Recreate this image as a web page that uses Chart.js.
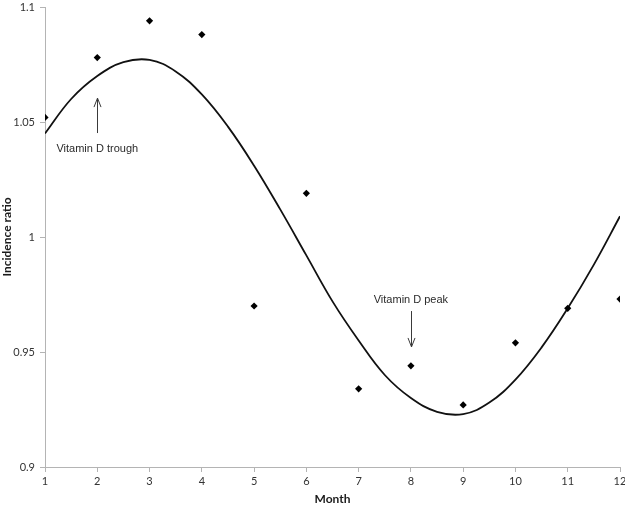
<!DOCTYPE html>
<html>
<head>
<meta charset="utf-8">
<script src="https://cdn.jsdelivr.net/npm/chart.js@4.4.1/dist/chart.umd.min.js"></script>
<style>
  html, body { margin: 0; padding: 0; background: #ffffff; }
  #wrap { width: 625px; height: 506px; position: relative; }
</style>
</head>
<body>
<div id="wrap"><canvas id="c" width="625" height="506"></canvas></div>
<script>
// Observed incidence ratio by month
const months = [1, 2, 3, 4, 5, 6, 7, 8, 9, 10, 11, 12];
const incidence = [1.052, 1.078, 1.094, 1.088, 0.970, 1.019, 0.934, 0.944, 0.927, 0.954, 0.969, 0.973];

// Fitted seasonal curve, every half month
const curveMonths = [1, 1.5, 2, 2.5, 3, 3.5, 4, 4.5, 5, 5.5, 6, 6.5, 7, 7.5, 8, 8.5, 9, 9.5, 10, 10.5, 11, 11.5, 12];
const curveValues = [1.045, 1.060, 1.070, 1.076, 1.077, 1.072, 1.062, 1.048, 1.031, 1.012, 0.992, 0.972, 0.955, 0.940, 0.930, 0.924, 0.923, 0.928, 0.938, 0.952, 0.969, 0.988, 1.009];

// Axis tick labels
const yTickValues = [0.9, 0.95, 1, 1.05, 1.1];
const yTickLabels = ["0.9", "0.95", "1", "1.05", "1.1"];
const xTickLabels = ["1", "2", "3", "4", "5", "6", "7", "8", "9", "10", "11", "12"];

// Annotations (text + arrow), in data units
const noteTexts = ["Vitamin D trough", "Vitamin D peak"];
const noteTextX = [2, 8];
const noteTextY = [1.0383, 0.9726];
const arrowX = [2, 8];
const arrowFromY = [1.0452, 0.9678];
const arrowToY = [1.0604, 0.9522];

const pointData = months.map((m, i) => ({ x: m, y: incidence[i] }));
const curveData = curveMonths.map((m, i) => ({ x: m, y: curveValues[i] }));

const annotationPlugin = {
  id: 'notes',
  afterDatasetsDraw(chart) {
    const ctx = chart.ctx;
    const xs = chart.scales.x, ys = chart.scales.y;
    ctx.save();
    for (let i = 0; i < noteTexts.length; i++) {
      const ax = Math.round(xs.getPixelForValue(arrowX[i])) + 0.5;
      const y0 = ys.getPixelForValue(arrowFromY[i]);
      const y1 = ys.getPixelForValue(arrowToY[i]);
      ctx.strokeStyle = '#3a3a3a';
      ctx.lineWidth = 1;
      ctx.beginPath();
      ctx.moveTo(ax, y0);
      ctx.lineTo(ax, y1);
      const dir = y1 < y0 ? 1 : -1;
      ctx.moveTo(ax - 3.5, y1 + dir * 9);
      ctx.lineTo(ax, y1);
      ctx.lineTo(ax + 3.5, y1 + dir * 9);
      ctx.stroke();
      ctx.fillStyle = '#2a2a2a';
      ctx.font = '11px "Liberation Sans", Arial, sans-serif';
      ctx.textAlign = 'center';
      ctx.textBaseline = 'middle';
      ctx.fillText(noteTexts[i], xs.getPixelForValue(noteTextX[i]), ys.getPixelForValue(noteTextY[i]));
    }
    ctx.restore();
  }
};

const axisColor = '#b4b4b4';
const tickFont = { family: 'Lato, "Open Sans", sans-serif', size: 11 };

new Chart(document.getElementById('c'), {
  type: 'scatter',
  data: {
    datasets: [
      {
        label: 'Fitted',
        data: curveData,
        showLine: true,
        borderColor: '#111111',
        borderWidth: 1.8,
        pointRadius: 0,
        pointHoverRadius: 0,
        tension: 0.4,
        fill: false,
        order: 2
      },
      {
        label: 'Observed',
        data: pointData,
        pointStyle: 'rectRot',
        pointRadius: 3.6,
        backgroundColor: '#000000',
        borderColor: '#000000',
        borderWidth: 0,
        showLine: false,
        order: 1
      }
    ]
  },
  options: {
    responsive: false,
    animation: false,
    layout: { padding: { top: 0, right: 0, left: 0, bottom: 0 } },
    plugins: {
      legend: { display: false },
      tooltip: { enabled: false }
    },
    scales: {
      x: {
        type: 'linear',
        min: 1,
        max: 12,
        afterBuildTicks(axis) {
          axis.ticks = months.map(v => ({ value: v }));
        },
        ticks: {
          color: '#333333',
          font: tickFont,
          padding: 3,
          maxRotation: 0,
          callback: (v) => xTickLabels[months.indexOf(v)]
        },
        grid: { drawOnChartArea: false, drawTicks: true, tickLength: 5, color: axisColor },
        border: { display: true, color: axisColor, width: 1 },
        title: {
          display: true,
          text: 'Month',
          color: '#1a1a1a',
          font: { family: 'Lato, "Open Sans", sans-serif', size: 12, weight: 'bold' },
          padding: { top: 2, bottom: 0 }
        },
        afterFit(axis) { axis.height = 39; axis.paddingRight = 5; axis.paddingLeft = 0; }
      },
      y: {
        type: 'linear',
        min: 0.9,
        max: 1.1,
        afterBuildTicks(axis) {
          axis.ticks = yTickValues.map(v => ({ value: v }));
        },
        ticks: {
          color: '#333333',
          font: tickFont,
          padding: 5,
          callback: (v) => {
            const idx = yTickValues.findIndex(t => Math.abs(t - v) < 1e-9);
            return idx >= 0 ? yTickLabels[idx] : '';
          }
        },
        grid: { drawOnChartArea: false, drawTicks: true, tickLength: 5, color: axisColor },
        border: { display: true, color: axisColor, width: 1 },
        title: {
          display: true,
          text: 'Incidence ratio',
          color: '#1a1a1a',
          font: { family: 'Lato, "Open Sans", sans-serif', size: 12, weight: 'bold' },
          padding: { top: 0, bottom: 0 }
        },
        afterFit(axis) { axis.width = 45; axis.paddingTop = 7; axis.paddingBottom = 0; }
      }
    }
  },
  plugins: [annotationPlugin]
});
</script>
</body>
</html>
